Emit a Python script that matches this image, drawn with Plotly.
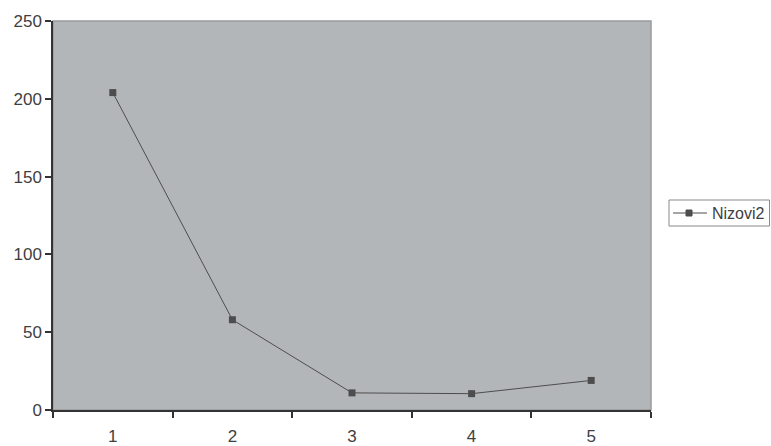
import plotly.graph_objects as go

# Series data
categories = [1, 2, 3, 4, 5]
tick_labels = ["1", "2", "3", "4", "5"]
nizovi2 = [204, 58, 11, 10.5, 19]
y_ticks = [0, 50, 100, 150, 200, 250]
series_name = "Nizovi2"

LINE_COLOR = "#4d4d4d"

# plot area geometry in pixels
W, H = 771, 446
L, R, T, B = 53, 120, 21, 36
PW, PH = W - L - R, H - T - B


def px(xp):
    return (xp - L) / PW


def py(yp):
    return (H - B - yp) / PH


fig = go.Figure()
fig.add_trace(go.Scatter(
    x=categories, y=nizovi2, mode="lines+markers", name=series_name,
    line=dict(color=LINE_COLOR, width=1),
    marker=dict(symbol="square", size=7, color=LINE_COLOR),
    showlegend=False,
))

# light frame around the plotting area (top/right edges)
fig.add_shape(type="rect", xref="paper", yref="paper", x0=0, y0=0, x1=1, y1=1,
              line=dict(color="#9a9a9a", width=1.5), layer="below")

# legend box drawn at the right of the plot
fig.add_shape(type="rect", xref="paper", yref="paper",
              x0=px(669), x1=px(769.5), y0=py(226), y1=py(200),
              line=dict(color="#8a8a8a", width=1), fillcolor="white")
fig.add_shape(type="line", xref="paper", yref="paper",
              x0=px(673), x1=px(707), y0=py(213), y1=py(213),
              line=dict(color=LINE_COLOR, width=1))
fig.add_shape(type="rect", xref="paper", yref="paper",
              x0=px(686), x1=px(692), y0=py(216), y1=py(210),
              line=dict(color=LINE_COLOR, width=1), fillcolor=LINE_COLOR)
fig.add_annotation(xref="paper", yref="paper", x=px(710), y=py(213),
                   xanchor="left", yanchor="middle", showarrow=False,
                   text=series_name, font=dict(size=16, color="#404040"))

fig.update_layout(
    width=W, height=H,
    margin=dict(l=L, r=R, t=T, b=B, autoexpand=False),
    paper_bgcolor="white", plot_bgcolor="#b3b6b9",
    font=dict(family="Liberation Sans, Arial, sans-serif", size=17, color="#404040"),
    showlegend=False,
    xaxis=dict(range=[0.5, 5.5], tickmode="array", tickvals=categories,
               ticktext=tick_labels, ticks="", showgrid=False, zeroline=False,
               showline=True, linecolor="#333333", linewidth=1.5,
               minor=dict(tick0=0.5, dtick=1, ticks="outside", ticklen=6,
                          tickcolor="#333333", tickwidth=1.5, showgrid=False),
               ticklabelstandoff=10),
    yaxis=dict(range=[0, 250], tickmode="array", tickvals=y_ticks,
               ticks="outside", ticklen=6, tickcolor="#333333", tickwidth=1.5,
               showgrid=False, zeroline=False, showline=True,
               linecolor="#333333", linewidth=1.5),
)

fig.write_html("out.html")
